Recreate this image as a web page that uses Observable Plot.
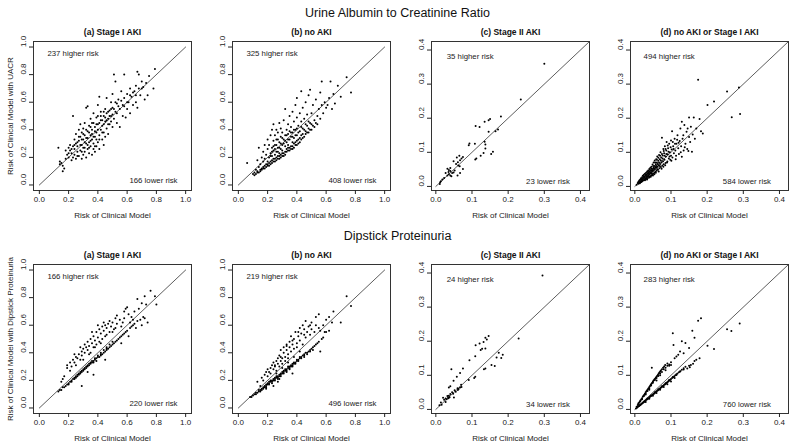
<!DOCTYPE html>
<html><head><meta charset="utf-8">
<script src="https://cdn.jsdelivr.net/npm/d3@7"></script>
<script src="https://cdn.jsdelivr.net/npm/@observablehq/plot@0.6"></script>
<style>
html,body{margin:0;padding:0;background:#fff;overflow:hidden}
#chart{position:relative;width:795px;height:447px;font-family:"Liberation Sans",Arial,sans-serif;color:#111;overflow:hidden}
.rowtitle{position:absolute;left:0;width:795px;text-align:center;font-size:12.5px;line-height:14px}
.panel{position:absolute}
</style></head><body>
<div id="chart"></div>
<script>
const rowTitles = ["Urine Albumin to Creatinine Ratio", "Dipstick Proteinuria"];
const panelTitles = ["(a) Stage I AKI", "(b) no AKI", "(c) Stage II AKI", "(d) no AKI or Stage I AKI"];
const yLabels = ["Risk of Clinical Model with UACR", "Risk of Clinical Model with Dipstick Proteinuria"];
const xLabel = "Risk of Clinical Model";
const higherCounts = [[237, 325, 35, 494], [166, 219, 24, 283]];
const lowerCounts = [[166, 408, 23, 584], [220, 496, 34, 760]];
const ticksWide = [0, 0.2, 0.4, 0.6, 0.8, 1.0];
const ticksNarrow = [0, 0.1, 0.2, 0.3, 0.4];
const diag = [0, 1];

// Row 1: UACR
const uacrStageI = [[0.13,0.27],[0.14,0.17],[0.15,0.16],[0.14,0.15],[0.16,0.10],[0.17,0.12],[0.16,0.14],[0.18,0.19],[0.19,0.22],[0.20,0.20],[0.20,0.27],[0.21,0.25],[0.21,0.29],[0.22,0.18],[0.22,0.23],[0.23,0.28],[0.23,0.50],[0.24,0.22],[0.24,0.26],[0.24,0.33],[0.25,0.19],[0.25,0.30],[0.25,0.37],[0.26,0.24],[0.26,0.28],[0.27,0.21],[0.27,0.32],[0.27,0.40],[0.28,0.25],[0.28,0.35],[0.28,0.44],[0.29,0.19],[0.29,0.29],[0.29,0.38],[0.30,0.22],[0.30,0.27],[0.30,0.33],[0.30,0.41],[0.31,0.24],[0.31,0.36],[0.31,0.45],[0.32,0.56],[0.32,0.30],[0.32,0.20],[0.33,0.57],[0.33,0.26],[0.33,0.34],[0.33,0.39],[0.34,0.23],[0.34,0.31],[0.34,0.43],[0.35,0.28],[0.35,0.36],[0.35,0.48],[0.36,0.22],[0.36,0.33],[0.36,0.40],[0.37,0.26],[0.37,0.30],[0.37,0.45],[0.37,0.52],[0.38,0.24],[0.38,0.35],[0.38,0.42],[0.39,0.28],[0.39,0.38],[0.39,0.49],[0.40,0.31],[0.40,0.44],[0.40,0.58],[0.41,0.26],[0.41,0.36],[0.41,0.64],[0.42,0.40],[0.42,0.47],[0.42,0.53],[0.43,0.33],[0.43,0.43],[0.44,0.29],[0.44,0.38],[0.44,0.50],[0.45,0.46],[0.45,0.55],[0.45,0.35],[0.46,0.41],[0.46,0.52],[0.46,0.63],[0.47,0.48],[0.47,0.37],[0.48,0.44],[0.48,0.54],[0.49,0.50],[0.49,0.60],[0.50,0.42],[0.50,0.56],[0.50,0.66],[0.51,0.80],[0.51,0.48],[0.52,0.75],[0.52,0.53],[0.53,0.59],[0.53,0.45],[0.54,0.62],[0.55,0.42],[0.55,0.55],[0.56,0.68],[0.57,0.50],[0.57,0.58],[0.58,0.80],[0.58,0.63],[0.59,0.49],[0.60,0.55],[0.60,0.66],[0.61,0.60],[0.62,0.52],[0.62,0.70],[0.63,0.64],[0.64,0.58],[0.65,0.68],[0.66,0.72],[0.66,0.60],[0.67,0.82],[0.67,0.56],[0.68,0.80],[0.68,0.70],[0.69,0.65],[0.70,0.75],[0.71,0.71],[0.72,0.62],[0.73,0.74],[0.74,0.65],[0.75,0.79],[0.78,0.70],[0.79,0.84],
[0.18,0.25],[0.20,0.23],[0.22,0.26],[0.23,0.20],[0.24,0.29],[0.26,0.31],[0.26,0.21],[0.27,0.35],[0.28,0.29],[0.29,0.33],[0.29,0.24],[0.30,0.37],[0.31,0.31],[0.31,0.27],[0.32,0.40],[0.32,0.34],[0.33,0.29],[0.34,0.38],[0.34,0.27],[0.35,0.42],[0.35,0.32],[0.36,0.37],[0.36,0.45],[0.37,0.35],[0.38,0.39],[0.38,0.28],[0.39,0.44],[0.39,0.33],[0.40,0.40],[0.40,0.50],[0.41,0.45],[0.41,0.33],[0.42,0.50],[0.43,0.47],[0.43,0.38],[0.44,0.53],[0.44,0.44],[0.45,0.49],[0.46,0.47],[0.47,0.53],[0.47,0.44],[0.48,0.50],[0.49,0.55],[0.49,0.46],[0.50,0.51],[0.51,0.55],[0.52,0.60],[0.53,0.52],[0.54,0.57],[0.56,0.61],[0.58,0.57],[0.60,0.60],[0.62,0.65],[0.64,0.67],[0.66,0.65],[0.70,0.70]];

const uacrNoAKI = [[0.06,0.16],[0.10,0.08],[0.11,0.09],[0.12,0.08],[0.12,0.11],[0.13,0.10],[0.13,0.18],[0.14,0.09],[0.14,0.13],[0.14,0.27],[0.15,0.11],[0.15,0.15],[0.16,0.12],[0.16,0.20],[0.17,0.13],[0.17,0.17],[0.17,0.24],[0.18,0.14],[0.18,0.19],[0.18,0.29],[0.19,0.15],[0.19,0.22],[0.20,0.14],[0.20,0.17],[0.20,0.26],[0.20,0.33],[0.21,0.16],[0.21,0.20],[0.21,0.29],[0.22,0.17],[0.22,0.23],[0.22,0.36],[0.23,0.18],[0.23,0.21],[0.23,0.27],[0.23,0.40],[0.24,0.19],[0.24,0.25],[0.24,0.32],[0.24,0.44],[0.25,0.17],[0.25,0.22],[0.25,0.29],[0.25,0.36],[0.26,0.20],[0.26,0.24],[0.26,0.33],[0.26,0.40],[0.27,0.21],[0.27,0.27],[0.27,0.38],[0.28,0.19],[0.28,0.23],[0.28,0.31],[0.28,0.45],[0.29,0.22],[0.29,0.26],[0.29,0.35],[0.29,0.41],[0.30,0.21],[0.30,0.25],[0.30,0.29],[0.30,0.38],[0.31,0.23],[0.31,0.33],[0.31,0.47],[0.32,0.24],[0.32,0.28],[0.32,0.36],[0.32,0.55],[0.33,0.26],[0.33,0.31],[0.33,0.40],[0.34,0.25],[0.34,0.29],[0.34,0.37],[0.34,0.44],[0.35,0.27],[0.35,0.33],[0.35,0.50],[0.36,0.28],[0.36,0.35],[0.36,0.42],[0.37,0.26],[0.37,0.31],[0.37,0.38],[0.37,0.53],[0.38,0.30],[0.38,0.34],[0.38,0.46],[0.39,0.29],[0.39,0.40],[0.39,0.58],[0.40,0.32],[0.40,0.36],[0.40,0.49],[0.40,0.63],[0.41,0.30],[0.41,0.43],[0.42,0.34],[0.42,0.39],[0.42,0.52],[0.43,0.33],[0.43,0.46],[0.43,0.68],[0.44,0.37],[0.44,0.41],[0.44,0.56],[0.45,0.35],[0.45,0.48],[0.46,0.39],[0.46,0.44],[0.46,0.60],[0.47,0.38],[0.47,0.51],[0.48,0.41],[0.48,0.46],[0.48,0.65],[0.49,0.40],[0.49,0.69],[0.50,0.44],[0.50,0.52],[0.51,0.43],[0.51,0.58],[0.52,0.47],[0.53,0.45],[0.53,0.62],[0.54,0.50],[0.55,0.55],[0.56,0.48],[0.56,0.67],[0.57,0.75],[0.57,0.58],[0.58,0.52],[0.59,0.60],[0.60,0.56],[0.61,0.58],[0.62,0.63],[0.63,0.75],[0.64,0.55],[0.65,0.66],[0.66,0.59],[0.68,0.72],[0.70,0.64],[0.74,0.78],[0.77,0.67],
[0.11,0.07],[0.13,0.09],[0.15,0.10],[0.16,0.11],[0.17,0.12],[0.18,0.12],[0.19,0.13],[0.20,0.15],[0.21,0.14],[0.22,0.15],[0.22,0.21],[0.23,0.16],[0.23,0.24],[0.24,0.17],[0.24,0.28],[0.25,0.19],[0.25,0.26],[0.26,0.18],[0.26,0.29],[0.27,0.19],[0.27,0.24],[0.27,0.33],[0.28,0.21],[0.28,0.27],[0.29,0.20],[0.29,0.30],[0.30,0.23],[0.30,0.34],[0.31,0.21],[0.31,0.30],[0.32,0.22],[0.32,0.32],[0.33,0.24],[0.33,0.36],[0.34,0.27],[0.34,0.33],[0.35,0.25],[0.35,0.39],[0.36,0.26],[0.36,0.38],[0.37,0.28],[0.37,0.35],[0.38,0.27],[0.38,0.40],[0.39,0.31],[0.39,0.36],[0.40,0.29],[0.40,0.41],[0.41,0.33],[0.41,0.38],[0.42,0.31],[0.43,0.36],[0.43,0.42],[0.44,0.34],[0.45,0.40],[0.46,0.37],[0.47,0.43],[0.48,0.38],[0.49,0.45],[0.50,0.40],[0.52,0.42],[0.54,0.44]];

const uacrStageII = [[0.300,0.360],[0.235,0.255],[0.180,0.205],[0.146,0.194],[0.135,0.190],[0.150,0.198],[0.110,0.177],[0.121,0.174],[0.146,0.160],[0.165,0.162],[0.172,0.167],[0.108,0.125],[0.091,0.121],[0.093,0.126],[0.135,0.131],[0.137,0.123],[0.137,0.111],[0.132,0.098],[0.153,0.095],[0.158,0.102],[0.124,0.090],[0.109,0.079],[0.112,0.082],[0.075,0.086],[0.071,0.082],[0.058,0.085],[0.067,0.077],[0.049,0.074],[0.056,0.066],[0.062,0.061],[0.040,0.054],[0.032,0.052],[0.066,0.059],[0.075,0.051],[0.045,0.039],[0.036,0.036],[0.032,0.032],[0.040,0.032],[0.049,0.041],[0.023,0.025],[0.014,0.015],[0.011,0.007],[0.060,0.032],[0.067,0.039],[0.036,0.048],[0.027,0.039],[0.040,0.045],[0.035,0.042],[0.043,0.030],[0.052,0.047],[0.061,0.071],[0.065,0.090],[0.018,0.020],[0.012,0.012]];

const uacrNoOrStageI = [[0.005,0.005],[0.008,0.010],[0.010,0.008],[0.010,0.014],[0.012,0.011],[0.013,0.018],[0.015,0.012],[0.015,0.020],[0.016,0.015],[0.017,0.024],[0.018,0.013],[0.019,0.019],[0.020,0.027],[0.020,0.015],[0.021,0.022],[0.022,0.031],[0.023,0.017],[0.024,0.025],[0.025,0.019],[0.025,0.034],[0.026,0.028],[0.027,0.021],[0.028,0.037],[0.029,0.024],[0.029,0.031],[0.030,0.020],[0.031,0.040],[0.032,0.027],[0.032,0.034],[0.033,0.023],[0.034,0.044],[0.035,0.030],[0.035,0.038],[0.036,0.025],[0.037,0.047],[0.038,0.033],[0.038,0.041],[0.039,0.028],[0.040,0.051],[0.041,0.036],[0.041,0.044],[0.042,0.030],[0.043,0.055],[0.044,0.039],[0.045,0.047],[0.045,0.032],[0.046,0.058],[0.047,0.042],[0.048,0.035],[0.048,0.051],[0.049,0.064],[0.050,0.045],[0.051,0.037],[0.052,0.055],[0.052,0.070],[0.053,0.048],[0.054,0.040],[0.055,0.060],[0.055,0.076],[0.056,0.051],[0.057,0.043],[0.058,0.065],[0.059,0.080],[0.060,0.055],[0.060,0.046],[0.061,0.070],[0.062,0.088],[0.063,0.058],[0.064,0.049],[0.065,0.075],[0.066,0.062],[0.067,0.092],[0.068,0.053],[0.069,0.080],[0.070,0.066],[0.071,0.100],[0.072,0.057],[0.073,0.085],[0.074,0.070],[0.075,0.143],[0.076,0.061],[0.077,0.091],[0.078,0.074],[0.079,0.110],[0.080,0.065],[0.081,0.097],[0.082,0.078],[0.083,0.118],[0.085,0.069],[0.086,0.088],[0.087,0.105],[0.088,0.130],[0.090,0.073],[0.091,0.094],[0.092,0.112],[0.094,0.082],[0.095,0.125],[0.097,0.100],[0.098,0.078],[0.100,0.090],[0.100,0.135],[0.102,0.108],[0.103,0.162],[0.104,0.085],[0.106,0.118],[0.108,0.097],[0.110,0.140],[0.112,0.105],[0.114,0.090],[0.115,0.125],[0.118,0.150],[0.120,0.112],[0.122,0.095],[0.124,0.133],[0.126,0.170],[0.128,0.118],[0.130,0.087],[0.130,0.190],[0.132,0.140],[0.135,0.105],[0.137,0.180],[0.140,0.125],[0.143,0.160],[0.145,0.110],[0.148,0.104],[0.150,0.202],[0.150,0.145],[0.153,0.130],[0.155,0.175],[0.158,0.102],[0.160,0.152],[0.163,0.202],[0.166,0.140],[0.170,0.170],[0.175,0.313],[0.179,0.198],[0.183,0.162],[0.188,0.155],[0.201,0.239],[0.219,0.249],[0.255,0.278],[0.268,0.203],[0.288,0.290],[0.291,0.212],
[0.012,0.016],[0.014,0.009],[0.018,0.022],[0.021,0.017],[0.024,0.030],[0.027,0.026],[0.028,0.018],[0.031,0.035],[0.033,0.029],[0.034,0.020],[0.036,0.043],[0.037,0.033],[0.039,0.037],[0.040,0.026],[0.042,0.048],[0.043,0.040],[0.044,0.028],[0.046,0.052],[0.047,0.038],[0.049,0.046],[0.050,0.032],[0.051,0.060],[0.053,0.052],[0.054,0.036],[0.056,0.070],[0.057,0.056],[0.058,0.040],[0.059,0.060],[0.061,0.078],[0.062,0.050],[0.063,0.066],[0.065,0.084],[0.066,0.044],[0.067,0.070],[0.069,0.060],[0.070,0.090],[0.072,0.076],[0.074,0.052],[0.075,0.095],[0.077,0.082],[0.079,0.058],[0.080,0.104],[0.082,0.090],[0.084,0.062],[0.085,0.110],[0.087,0.095],[0.089,0.070],[0.091,0.120],[0.093,0.102],[0.096,0.088],[0.099,0.115],[0.101,0.075],[0.105,0.130],[0.107,0.110],[0.111,0.125],[0.113,0.080],[0.117,0.137],[0.121,0.128],[0.127,0.100],[0.134,0.150],[0.138,0.115],[0.146,0.170]];

// Row 2: Dipstick proteinuria
const dipStageI = [[0.13,0.12],[0.14,0.13],[0.15,0.13],[0.16,0.15],[0.17,0.15],[0.18,0.16],[0.19,0.17],[0.20,0.18],[0.21,0.19],[0.22,0.20],[0.23,0.21],[0.24,0.21],[0.25,0.22],[0.25,0.23],[0.26,0.23],[0.27,0.24],[0.27,0.25],[0.28,0.25],[0.29,0.26],[0.29,0.27],[0.30,0.27],[0.31,0.28],[0.31,0.29],[0.32,0.29],[0.33,0.30],[0.33,0.31],[0.34,0.31],[0.35,0.32],[0.35,0.33],[0.36,0.33],[0.37,0.34],[0.37,0.33],[0.38,0.35],[0.39,0.36],[0.39,0.34],[0.40,0.37],[0.41,0.37],[0.42,0.38],[0.42,0.39],[0.43,0.39],[0.44,0.40],[0.45,0.41],[0.46,0.42],[0.46,0.43],[0.47,0.43],[0.48,0.44],[0.49,0.45],[0.50,0.46],[0.51,0.47],[0.52,0.48],[0.53,0.49],[0.54,0.50],[0.55,0.51],[0.56,0.52],[0.57,0.53],[0.58,0.54],[0.59,0.55],[0.60,0.56],[0.62,0.58],[0.63,0.59],[0.64,0.60],[0.65,0.61],[0.67,0.63],[0.69,0.64],[0.71,0.66],[0.72,0.65],[0.29,0.16],[0.37,0.24],[0.45,0.35],[0.33,0.26],[0.56,0.47],[0.61,0.52],[0.70,0.60],[0.66,0.58],[0.74,0.62],[0.15,0.19],[0.16,0.21],[0.17,0.23],[0.19,0.29],[0.19,0.31],[0.21,0.27],[0.21,0.33],[0.22,0.30],[0.23,0.35],[0.24,0.33],[0.25,0.37],[0.25,0.31],[0.26,0.36],[0.27,0.39],[0.28,0.35],[0.29,0.41],[0.29,0.38],[0.30,0.43],[0.31,0.40],[0.31,0.46],[0.32,0.44],[0.33,0.42],[0.33,0.48],[0.34,0.45],[0.35,0.50],[0.35,0.40],[0.36,0.47],[0.37,0.52],[0.37,0.44],[0.38,0.49],[0.39,0.55],[0.39,0.46],[0.40,0.51],[0.41,0.57],[0.41,0.48],[0.42,0.54],[0.43,0.59],[0.43,0.50],[0.44,0.56],[0.45,0.60],[0.45,0.52],[0.46,0.58],[0.47,0.61],[0.48,0.55],[0.49,0.59],[0.50,0.62],[0.51,0.57],[0.52,0.65],[0.53,0.61],[0.53,0.67],[0.55,0.64],[0.56,0.59],[0.58,0.70],[0.59,0.72],[0.58,0.65],[0.60,0.73],[0.61,0.68],[0.63,0.66],[0.65,0.70],[0.67,0.79],[0.68,0.72],[0.70,0.76],[0.72,0.81],[0.73,0.75],[0.76,0.85],[0.79,0.81],[0.80,0.75],
[0.20,0.17],[0.22,0.19],[0.24,0.22],[0.26,0.24],[0.28,0.26],[0.30,0.28],[0.32,0.30],[0.34,0.32],[0.36,0.34],[0.38,0.36],[0.40,0.38],[0.42,0.40],[0.44,0.42],[0.46,0.44],[0.48,0.46],[0.50,0.48],[0.30,0.35],[0.34,0.39],[0.38,0.44],[0.42,0.47],[0.46,0.53],[0.50,0.55],[0.36,0.55],[0.40,0.60],[0.44,0.62],[0.48,0.63],[0.28,0.44],[0.24,0.39],[0.52,0.58],[0.57,0.62],[0.62,0.62],[0.64,0.64]];

const dipNoAKI = [[0.08,0.08],[0.09,0.08],[0.10,0.09],[0.11,0.10],[0.12,0.10],[0.12,0.11],[0.13,0.11],[0.14,0.12],[0.14,0.13],[0.15,0.13],[0.16,0.14],[0.16,0.13],[0.17,0.15],[0.18,0.15],[0.18,0.16],[0.19,0.16],[0.19,0.17],[0.20,0.17],[0.20,0.18],[0.21,0.18],[0.21,0.19],[0.22,0.19],[0.22,0.20],[0.23,0.19],[0.23,0.20],[0.24,0.21],[0.24,0.20],[0.25,0.21],[0.25,0.22],[0.26,0.22],[0.26,0.23],[0.27,0.23],[0.27,0.22],[0.28,0.24],[0.28,0.23],[0.29,0.25],[0.29,0.24],[0.30,0.25],[0.30,0.26],[0.31,0.26],[0.31,0.27],[0.32,0.27],[0.32,0.28],[0.33,0.28],[0.33,0.27],[0.34,0.29],[0.34,0.30],[0.35,0.30],[0.35,0.29],[0.36,0.31],[0.36,0.30],[0.37,0.32],[0.37,0.31],[0.38,0.32],[0.38,0.33],[0.39,0.33],[0.40,0.34],[0.40,0.35],[0.41,0.35],[0.42,0.36],[0.42,0.37],[0.43,0.37],[0.44,0.38],[0.45,0.38],[0.45,0.39],[0.46,0.40],[0.47,0.40],[0.48,0.41],[0.49,0.42],[0.50,0.43],[0.51,0.44],[0.52,0.45],[0.53,0.46],[0.54,0.47],[0.55,0.48],[0.57,0.50],[0.58,0.51],[0.59,0.55],[0.60,0.55],[0.62,0.56],[0.56,0.41],[0.37,0.25],[0.28,0.21],[0.27,0.19],[0.24,0.16],[0.19,0.14],[0.13,0.19],[0.15,0.16],[0.16,0.22],[0.17,0.20],[0.18,0.24],[0.19,0.26],[0.20,0.23],[0.20,0.28],[0.21,0.26],[0.22,0.29],[0.22,0.25],[0.23,0.31],[0.24,0.28],[0.24,0.33],[0.25,0.30],[0.26,0.34],[0.26,0.27],[0.27,0.32],[0.27,0.36],[0.28,0.30],[0.28,0.38],[0.29,0.34],[0.29,0.42],[0.30,0.36],[0.30,0.32],[0.31,0.40],[0.31,0.44],[0.32,0.37],[0.32,0.34],[0.33,0.42],[0.33,0.46],[0.34,0.39],[0.34,0.36],[0.35,0.44],[0.35,0.48],[0.36,0.41],[0.36,0.52],[0.37,0.46],[0.38,0.43],[0.38,0.50],[0.39,0.55],[0.40,0.47],[0.40,0.44],[0.41,0.52],[0.42,0.58],[0.42,0.49],[0.43,0.54],[0.44,0.60],[0.44,0.46],[0.45,0.57],[0.46,0.51],[0.46,0.63],[0.47,0.55],[0.48,0.59],[0.49,0.53],[0.50,0.57],[0.50,0.62],[0.52,0.55],[0.53,0.66],[0.53,0.60],[0.55,0.68],[0.55,0.58],[0.56,0.56],[0.58,0.60],[0.60,0.64],[0.62,0.66],[0.64,0.62],[0.65,0.70],[0.70,0.62],[0.74,0.81],[0.77,0.74],
[0.15,0.12],[0.17,0.14],[0.19,0.15],[0.21,0.17],[0.23,0.18],[0.25,0.20],[0.27,0.21],[0.29,0.23],[0.31,0.25],[0.33,0.26],[0.35,0.28],[0.37,0.30],[0.39,0.32],[0.41,0.34],[0.43,0.36],[0.45,0.37],[0.47,0.39],[0.49,0.41],[0.51,0.42],[0.26,0.25],[0.30,0.29],[0.34,0.33],[0.38,0.37],[0.42,0.41],[0.25,0.31],[0.29,0.37],[0.33,0.45],[0.37,0.49],[0.41,0.55],[0.45,0.53],[0.49,0.60]];

const dipStageII = [[0.295,0.393],[0.229,0.208],[0.174,0.166],[0.168,0.152],[0.146,0.215],[0.137,0.210],[0.141,0.205],[0.132,0.198],[0.110,0.188],[0.121,0.193],[0.124,0.174],[0.128,0.178],[0.137,0.179],[0.109,0.156],[0.093,0.144],[0.075,0.120],[0.067,0.107],[0.043,0.118],[0.058,0.096],[0.049,0.084],[0.040,0.068],[0.036,0.064],[0.061,0.057],[0.154,0.130],[0.163,0.127],[0.137,0.120],[0.133,0.118],[0.109,0.096],[0.106,0.092],[0.091,0.086],[0.181,0.151],[0.185,0.160],[0.071,0.066],[0.067,0.064],[0.063,0.060],[0.040,0.045],[0.036,0.040],[0.032,0.039],[0.034,0.035],[0.038,0.036],[0.027,0.032],[0.023,0.028],[0.014,0.020],[0.010,0.012],[0.050,0.035],[0.027,0.022],[0.045,0.050],[0.055,0.052],[0.060,0.062],[0.052,0.056],[0.035,0.033],[0.048,0.046],[0.016,0.014],[0.020,0.034],[0.030,0.030],[0.070,0.072]];

const dipNoOrStageI = [[0.003,0.003],[0.006,0.005],[0.008,0.007],[0.010,0.009],[0.012,0.010],[0.014,0.012],[0.016,0.014],[0.018,0.016],[0.020,0.017],[0.022,0.019],[0.024,0.021],[0.026,0.023],[0.028,0.025],[0.030,0.026],[0.032,0.028],[0.034,0.030],[0.036,0.031],[0.038,0.033],[0.040,0.035],[0.042,0.037],[0.044,0.039],[0.046,0.040],[0.048,0.042],[0.050,0.044],[0.052,0.046],[0.054,0.047],[0.056,0.049],[0.058,0.051],[0.060,0.053],[0.062,0.055],[0.064,0.056],[0.066,0.058],[0.068,0.060],[0.070,0.062],[0.072,0.064],[0.074,0.065],[0.076,0.067],[0.078,0.069],[0.080,0.071],[0.082,0.073],[0.084,0.074],[0.086,0.076],[0.088,0.078],[0.090,0.080],[0.092,0.082],[0.094,0.084],[0.096,0.085],[0.098,0.087],[0.100,0.089],[0.103,0.092],[0.106,0.094],[0.109,0.097],[0.112,0.100],[0.115,0.103],[0.118,0.105],[0.122,0.109],[0.126,0.112],[0.130,0.116],[0.135,0.121],[0.140,0.125],[0.145,0.120],[0.150,0.128],[0.155,0.130],[0.161,0.134],[0.165,0.142],[0.170,0.146],[0.179,0.150],[0.152,0.124],[0.030,0.022],[0.050,0.040],[0.070,0.058],[0.090,0.074],[0.060,0.048],[0.080,0.066],[0.040,0.031],[0.110,0.092],[0.100,0.082],[0.005,0.008],[0.008,0.013],[0.010,0.016],[0.012,0.020],[0.014,0.023],[0.016,0.027],[0.018,0.030],[0.020,0.033],[0.022,0.037],[0.024,0.040],[0.026,0.043],[0.028,0.046],[0.030,0.050],[0.032,0.053],[0.034,0.056],[0.036,0.059],[0.038,0.062],[0.040,0.066],[0.042,0.069],[0.044,0.072],[0.046,0.075],[0.048,0.078],[0.050,0.082],[0.052,0.085],[0.054,0.088],[0.056,0.090],[0.058,0.093],[0.060,0.096],[0.062,0.099],[0.064,0.102],[0.066,0.105],[0.068,0.108],[0.070,0.111],[0.072,0.114],[0.075,0.118],[0.078,0.122],[0.081,0.126],[0.084,0.130],[0.047,0.122],[0.090,0.128],[0.095,0.132],[0.100,0.138],[0.105,0.223],[0.107,0.189],[0.110,0.150],[0.115,0.155],[0.120,0.160],[0.125,0.170],[0.130,0.200],[0.135,0.165],[0.140,0.195],[0.150,0.180],[0.159,0.231],[0.165,0.210],[0.175,0.260],[0.183,0.267],[0.201,0.187],[0.219,0.177],[0.255,0.235],[0.267,0.230],[0.290,0.252],[0.060,0.085],[0.040,0.058],[0.070,0.100],[0.030,0.044],[0.085,0.115],
[0.010,0.018],[0.015,0.024],[0.020,0.030],[0.025,0.039],[0.030,0.047],[0.035,0.054],[0.040,0.062],[0.045,0.070],[0.050,0.078],[0.055,0.086],[0.060,0.092],[0.065,0.098],[0.070,0.105],[0.075,0.110],[0.080,0.118],[0.085,0.122],[0.090,0.135],[0.095,0.128],[0.100,0.130],[0.015,0.013],[0.025,0.022],[0.035,0.032],[0.045,0.041],[0.055,0.050],[0.065,0.059],[0.075,0.068],[0.085,0.077],[0.095,0.086],[0.105,0.095],[0.115,0.101],[0.125,0.111],[0.135,0.117]];

const panelData = [
  [uacrStageI, uacrNoAKI, uacrStageII, uacrNoOrStageI],
  [dipStageI, dipNoAKI, dipStageII, dipNoOrStageI]
];

const chart = document.getElementById("chart");
const rowTop = [21, 244];
const rowTitleTop = [6, 229];
const colLeft = [0, 199, 398, 597];
const fmt = d3.format(".1f");
const font = '"Liberation Sans", Arial, Helvetica, sans-serif';

rowTitles.forEach((t, r) => {
  const div = document.createElement("div");
  div.className = "rowtitle";
  div.style.top = rowTitleTop[r] + "px";
  div.textContent = t;
  chart.appendChild(div);
});

function makePanel(row, col) {
  const wide = col < 2;
  const dom = wide ? [-0.04, 1.04] : [-0.012, 0.425];
  const ticks = wide ? ticksWide : ticksNarrow;
  const hiPos = wide ? [0.23, 0.95] : [0.095, 0.38];
  const loPos = wide ? [0.78, 0.03] : [0.31, 0.015];
  return Plot.plot({
    width: 199, height: 204,
    marginLeft: 33, marginRight: 8, marginTop: 20, marginBottom: 35,
    style: {fontFamily: font, fontSize: "8px", color: "#222", background: "transparent", overflow: "visible"},
    x: {domain: dom},
    y: {domain: dom},
    marks: [
      Plot.frame({stroke: "#333", strokeWidth: 1}),
      Plot.axisX({ticks, tickFormat: fmt, tickSize: 4, tickPadding: 2, label: xLabel, labelAnchor: "center", labelArrow: "none", labelOffset: 27}),
      Plot.axisY({ticks, tickFormat: () => "", tickSize: 4, tickPadding: 2, label: col === 0 ? yLabels[row] : null, labelAnchor: "center", labelArrow: "none", labelOffset: 26}),
      Plot.text(ticks, {y: d => d, frameAnchor: "left", dx: -10, rotate: -90, text: d => fmt(d), fill: "#222", fontSize: 8}),
      Plot.line(diag, {x: d => d, y: d => d, stroke: "#333", strokeWidth: 0.8, clip: true}),
      Plot.dot(panelData[row][col], {x: d => d[0], y: d => d[1], r: 1, fill: "#000", stroke: null}),
      Plot.text([`${higherCounts[row][col]} higher risk`], {x: hiPos[0], y: hiPos[1], text: d => d, fontSize: 7.8, fill: "#222"}),
      Plot.text([`${lowerCounts[row][col]} lower risk`], {x: loPos[0], y: loPos[1], text: d => d, fontSize: 7.8, fill: "#222"}),
      Plot.text([panelTitles[col]], {frameAnchor: "top", dy: -13, text: d => d, fontWeight: "bold", fontSize: 8.5, fill: "#111"})
    ]
  });
}

for (let r = 0; r < 2; r++) {
  for (let c = 0; c < 4; c++) {
    const svg = makePanel(r, c);
    svg.classList.add("panel");
    svg.style.left = colLeft[c] + "px";
    svg.style.top = rowTop[r] + "px";
    chart.appendChild(svg);
  }
}
</script>
</body></html>
